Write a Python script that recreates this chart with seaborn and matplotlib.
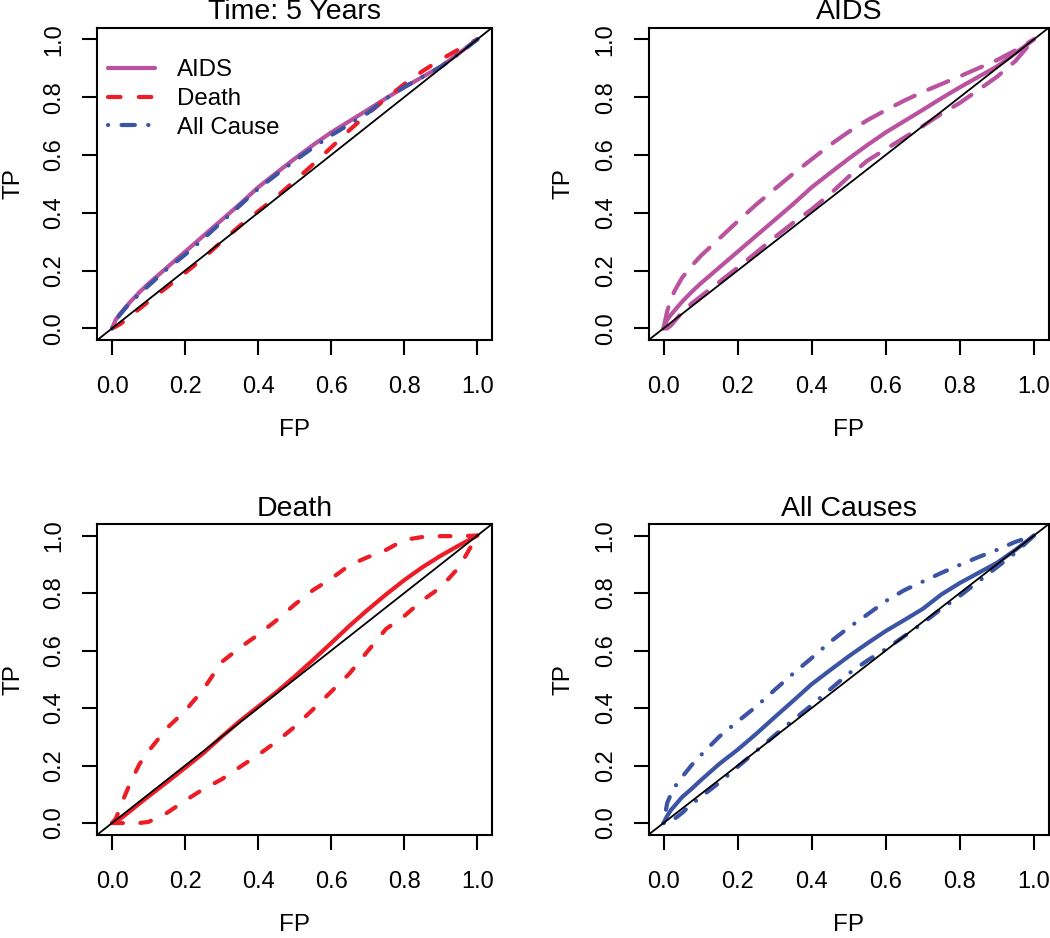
import numpy as np
import pandas as pd
import matplotlib
matplotlib.use("Agg")
import matplotlib.pyplot as plt
import seaborn as sns

# ---------------- data ----------------
fp = [0, 0.01, 0.02, 0.03, 0.05, 0.075, 0.1, 0.15, 0.2, 0.25, 0.3, 0.35, 0.4,
      0.45, 0.5, 0.55, 0.6, 0.65, 0.7, 0.75, 0.8, 0.85, 0.9, 0.95, 1.0]

aids_tp = [0, 0.03, 0.047, 0.062, 0.092, 0.125, 0.155, 0.21, 0.265, 0.32, 0.375, 0.43, 0.488,
           0.538, 0.587, 0.634, 0.678, 0.717, 0.756, 0.796, 0.834, 0.87, 0.906, 0.952, 1.0]
aids_upper = [0, 0.06, 0.1, 0.13, 0.175, 0.215, 0.25, 0.31, 0.37, 0.428, 0.482, 0.535, 0.585,
              0.635, 0.68, 0.72, 0.755, 0.788, 0.818, 0.845, 0.872, 0.9, 0.928, 0.962, 1.0]
aids_lower = [0, 0.0, 0.01, 0.025, 0.055, 0.085, 0.11, 0.16, 0.21, 0.262, 0.315, 0.365, 0.412,
              0.465, 0.525, 0.58, 0.62, 0.66, 0.7, 0.742, 0.78, 0.825, 0.87, 0.925, 1.0]

death_tp = [0, 0.006, 0.013, 0.022, 0.042, 0.068, 0.093, 0.142, 0.192, 0.243, 0.3, 0.355, 0.405,
            0.455, 0.51, 0.567, 0.626, 0.686, 0.742, 0.795, 0.845, 0.89, 0.93, 0.966, 1.0]
death_upper = [0, 0.015, 0.045, 0.08, 0.14, 0.205, 0.25, 0.33, 0.39, 0.465, 0.56, 0.61, 0.655,
               0.705, 0.76, 0.81, 0.85, 0.897, 0.925, 0.95, 0.985, 0.995, 0.998, 0.998, 1.0]
death_lower = [0, 0.0, 0.0, 0.0, 0.0, 0.0, 0.004, 0.035, 0.078, 0.118, 0.152, 0.195, 0.237,
               0.283, 0.335, 0.395, 0.457, 0.52, 0.598, 0.675, 0.72, 0.775, 0.82, 0.89, 1.0]

all_tp = [0, 0.025, 0.045, 0.06, 0.09, 0.118, 0.148, 0.205, 0.255, 0.31, 0.368, 0.425, 0.483,
          0.532, 0.58, 0.625, 0.668, 0.706, 0.745, 0.795, 0.835, 0.87, 0.905, 0.95, 1.0]
all_upper = [0, 0.07, 0.1, 0.125, 0.16, 0.2, 0.235, 0.3, 0.353, 0.405, 0.463, 0.52, 0.574,
             0.63, 0.68, 0.725, 0.772, 0.81, 0.84, 0.87, 0.898, 0.925, 0.95, 0.978, 1.0]
all_lower = [0, 0.0, 0.005, 0.015, 0.035, 0.065, 0.09, 0.14, 0.195, 0.25, 0.305, 0.358, 0.41,
             0.465, 0.52, 0.565, 0.605, 0.65, 0.695, 0.745, 0.79, 0.84, 0.89, 0.94, 1.0]

titles = ["Time: 5 Years", "AIDS", "Death", "All Causes"]
legend_labels = ["AIDS", "Death", "All Cause"]
tick_vals = [0.0, 0.2, 0.4, 0.6, 0.8, 1.0]
tick_labels = ["0.0", "0.2", "0.4", "0.6", "0.8", "1.0"]

# ---------------- styling ----------------
sns.set_theme(style="ticks")
plt.rcParams["font.family"] = ["Liberation Sans", "DejaVu Sans"]
plt.rcParams["axes.edgecolor"] = "black"

C_AIDS = "#B9529F"
C_DEATH = "#EC1D27"
C_ALL = "#3C54A4"
LW = 3.0
LS_SOLID = "-"
LS_DASH = (0, (3.0, 4.4))
LS_LONGDASH = (0, (5.2, 3.6))
LS_SHORTDASH = (0, (2.6, 4.2))
LS_DOTDASH = (0, (0.05, 3.2, 3.2, 3.2))

TICK_FS = 17
LABEL_FS = 17.5
TITLE_FS = 20.5

fig = plt.figure(figsize=(10.5, 9.38), dpi=100)
rects = [
    [0.0928, 0.6376, 0.3757, 0.3328],
    [0.6178, 0.6376, 0.3810, 0.3328],
    [0.0928, 0.1103, 0.3757, 0.3310],
    [0.6178, 0.1103, 0.3810, 0.3310],
]
axes = [fig.add_axes(r) for r in rects]


def curve(ax, y, color, ls, label=None):
    df = pd.DataFrame({"FP": fp, "TP": y})
    sns.lineplot(data=df, x="FP", y="TP", ax=ax, color=color, lw=LW,
                 linestyle=ls, estimator=None, sort=False, label=label,
                 dash_capstyle="round", solid_capstyle="round",
                 solid_joinstyle="round", legend=False)


# panel 1
ax = axes[0]
curve(ax, aids_tp, C_AIDS, LS_SOLID, legend_labels[0])
curve(ax, death_tp, C_DEATH, LS_DASH, legend_labels[1])
curve(ax, all_tp, C_ALL, LS_DOTDASH, legend_labels[2])

# panel 2
ax = axes[1]
curve(ax, aids_tp, C_AIDS, LS_SOLID)
curve(ax, aids_upper, C_AIDS, LS_LONGDASH)
curve(ax, aids_lower, C_AIDS, LS_LONGDASH)

# panel 3
ax = axes[2]
curve(ax, death_tp, C_DEATH, LS_SOLID)
curve(ax, death_upper, C_DEATH, LS_SHORTDASH)
curve(ax, death_lower, C_DEATH, LS_SHORTDASH)

# panel 4
ax = axes[3]
curve(ax, all_tp, C_ALL, LS_SOLID)
curve(ax, all_upper, C_ALL, LS_DOTDASH)
curve(ax, all_lower, C_ALL, LS_DOTDASH)

for ax, title in zip(axes, titles):
    ax.axline((0, 0), slope=1, color="black", lw=1.3, zorder=5)
    ax.set_xlim(-0.04, 1.04)
    ax.set_ylim(-0.04, 1.04)
    ax.set_xticks(tick_vals)
    ax.set_xticklabels(tick_labels)
    ax.set_yticks(tick_vals)
    ax.set_yticklabels(tick_labels, rotation=90, va="center")
    ax.tick_params(axis="both", length=11, width=1.5, color="black",
                   labelsize=TICK_FS, labelcolor="black")
    ax.tick_params(axis="x", pad=15)
    ax.tick_params(axis="y", pad=12)
    for s in ax.spines.values():
        s.set_visible(True)
        s.set_linewidth(1.5)
        s.set_color("black")
    ax.set_xlabel("FP", fontsize=LABEL_FS, color="black")
    ax.set_ylabel("TP", fontsize=LABEL_FS, color="black")
    ax.xaxis.label.set_va("center")
    ax.yaxis.label.set_va("center")
    ax.xaxis.set_label_coords(0.5, -0.29)
    ax.yaxis.set_label_coords(-0.212, 0.5)
    ax.set_title(title, fontsize=TITLE_FS, color="black", pad=6)
    ax.set_facecolor("white")

leg = axes[0].legend(loc="upper left", bbox_to_anchor=(0.027, 0.899),
                     frameon=False, fontsize=17.3, handlelength=1.96,
                     handletextpad=0.9, labelspacing=0.28, borderpad=0,
                     borderaxespad=0)
for t in leg.get_texts():
    t.set_color("black")

fig.savefig("out.png", dpi=100, facecolor="white")
